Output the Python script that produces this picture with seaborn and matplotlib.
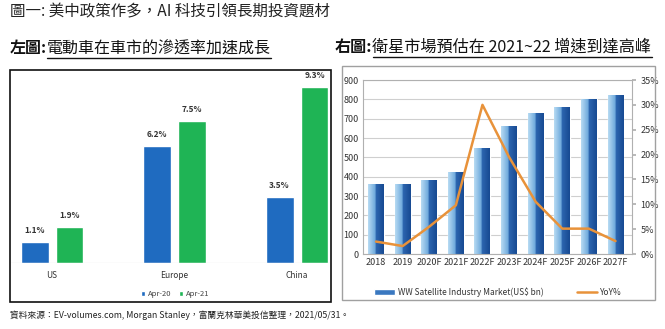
import numpy as np
import pandas as pd
import matplotlib
matplotlib.use("Agg")
import matplotlib.pyplot as plt
from matplotlib.patches import Rectangle, Patch
from matplotlib.lines import Line2D
from matplotlib.colors import LinearSegmentedColormap
import seaborn as sns

# ---------------- data ----------------
ev_regions = ["US", "Europe", "China"]
ev_apr20 = [1.1, 6.2, 3.5]
ev_apr21 = [1.9, 7.5, 9.3]
ev_series = ["Apr-20", "Apr-21"]

sat_years = ["2018", "2019", "2020F", "2021F", "2022F", "2023F", "2024F", "2025F", "2026F", "2027F"]
sat_market = [360, 362, 383, 422, 550, 660, 727, 758, 800, 820]
sat_yoy = [2.5, 1.6, 5.5, 9.8, 30.0, 19.5, 10.5, 5.1, 5.1, 2.6]

left_yticks_r = [0, 5, 10, 15, 20, 25, 30, 35]

title_text = "圖一: 美中政策作多，AI 科技引領長期投資題材"
left_sub_bold = "左圖:"
left_sub = "電動車在車市的滲透率加速成長"
right_sub_bold = "右圖:"
right_sub = "衛星市場預估在 2021~22 增速到達高峰"
footer_text = "資料來源：EV-volumes.com, Morgan Stanley，富蘭克林華美投信整理，2021/05/31。"

sns.set_theme(style="white")
plt.rcParams['font.family'] = ['Noto Sans CJK TC', 'DejaVu Sans']

W, H = 665, 329
fig = plt.figure(figsize=(W / 100, H / 100), dpi=100)


def fx(x):
    return x / W


def fy(y):
    return 1 - y / H


def axrect(x0, y0, x1, y1):
    return [fx(x0), fy(y1), (x1 - x0) / W, (y1 - y0) / H]


# ---------------- texts ----------------
fig.text(fx(10), fy(12), title_text, fontsize=11.2, va="center", ha="left", color="#222222")
fig.text(fx(10), fy(315), footer_text, fontsize=6.3, va="center", ha="left", color="#222222")

fig.canvas.draw()
renderer = fig.canvas.get_renderer()


def subtitle(x, y, bold, rest, size):
    t1 = fig.text(fx(x), fy(y), bold, fontsize=size, fontweight="bold", va="center", ha="left", color="#111111")
    bb = t1.get_window_extent(renderer)
    x2 = bb.x1 / fig.dpi * 100
    t2 = fig.text(x2 / W, fy(y), rest, fontsize=size, va="center", ha="left", color="#111111")
    bb2 = t2.get_window_extent(renderer)
    fig.add_artist(Line2D([bb2.x0 / (W), bb2.x1 / (W)], [fy(y + 10), fy(y + 10)],
                          transform=fig.transFigure, color="#111111", lw=1))


subtitle(10, 48, left_sub_bold, left_sub, 11.5)
subtitle(335, 47, right_sub_bold, right_sub, 11.6)

# ---------------- left chart ----------------
fig.add_artist(Rectangle((fx(10), fy(302)), 321 / W, 232 / H, transform=fig.transFigure,
                         fill=False, edgecolor="#111111", lw=1.2))

df_ev = pd.DataFrame({
    "region": ev_regions * 2,
    "value": ev_apr20 + ev_apr21,
    "series": [ev_series[0]] * 3 + [ev_series[1]] * 3,
})
axL = fig.add_axes(axrect(10, 75, 331, 263))
sns.barplot(data=df_ev, x="region", y="value", hue="series", order=ev_regions,
            hue_order=ev_series, palette=["#1f6bc0", "#1fb455"], width=0.57, gap=0.2,
            ax=axL, legend=False, saturation=1)
axL.set_xlim(-0.343, 2.277)
axL.set_ylim(0, 9.93)
for s in axL.spines.values():
    s.set_visible(False)
axL.set_yticks([])
axL.set_xlabel("")
axL.set_ylabel("")
axL.axhline(0, color="#c8c8c8", lw=0.8)
axL.tick_params(axis="x", length=0, labelsize=6, pad=6, colors="#333333")
for cont in axL.containers:
    axL.bar_label(cont, labels=[f"{v:.1f}%" for v in cont.datavalues], padding=5,
                  fontsize=6, fontweight="bold", color="#333333")
handlesL = [Patch(facecolor="#1f6bc0", label=ev_series[0]),
            Patch(facecolor="#1fb455", label=ev_series[1])]
fig.legend(handles=handlesL, loc="center", bbox_to_anchor=(fx(175), fy(294)), ncol=2,
           frameon=False, fontsize=5.5, handlelength=0.6, handleheight=0.6,
           handletextpad=0.3, columnspacing=1.0, labelcolor="#444444")

# ---------------- right chart ----------------
fig.add_artist(Rectangle((fx(342), fy(300)), 313 / W, 234 / H, transform=fig.transFigure,
                         fill=False, edgecolor="#a0a0a0", lw=1.0))

df_sat = pd.DataFrame({"year": sat_years, "market": sat_market})
axR = fig.add_axes(axrect(363, 80, 632, 254))
sns.barplot(data=df_sat, x="year", y="market", color="#2a64ad", width=0.6, ax=axR, saturation=1)
axR.set_xlim(-0.49, 9.62)
axR.set_ylim(0, 900)
axR.set_yticks(range(0, 901, 100))
axR.yaxis.grid(True, color="#cfcfcf", lw=0.8)
axR.set_axisbelow(True)
axR.set_xlabel("")
axR.set_ylabel("")
for s in axR.spines.values():
    s.set_color("#b0b0b0")
    s.set_linewidth(0.8)
axR.tick_params(axis="both", labelsize=6.5, colors="#333333", length=0, pad=3)

# gradient fill on bars
cmap = LinearSegmentedColormap.from_list(
    "satbar", [(0.0, "#b8dbf3"), (0.45, "#6ea9dc"), (0.5, "#2d66b0"), (1.0, "#174a92")])
grad = np.linspace(0, 1, 64).reshape(1, -1)
for p in axR.patches:
    x0, y0 = p.get_x(), p.get_y()
    w, h = p.get_width(), p.get_height()
    im = axR.imshow(grad, cmap=cmap, aspect="auto", extent=(x0, x0 + w, y0, y0 + h),
                    zorder=p.get_zorder() + 0.1, origin="lower")
    im.set_clip_path(p)
axR.set_xlim(-0.49, 9.62)
axR.set_ylim(0, 900)

axR2 = axR.twinx()
sns.lineplot(x=np.arange(len(sat_years)), y=sat_yoy, ax=axR2, color="#e8923a", lw=1.8)
axR2.set_ylim(0, 35)
axR2.set_yticks(left_yticks_r)
axR2.set_yticklabels([f"{v}%" for v in left_yticks_r])
axR2.tick_params(axis="y", labelsize=6.5, colors="#333333", length=3, pad=3, color="#b0b0b0")
for s in axR2.spines.values():
    s.set_visible(False)
axR2.set_ylabel("")

handlesR = [Patch(facecolor="#3a78c0", label="WW Satellite Industry Market(US$ bn)"),
            Line2D([0], [0], color="#e8923a", lw=1.8, label="YoY%")]
fig.legend(handles=handlesR, loc="center", bbox_to_anchor=(fx(498), fy(292)), ncol=2,
           frameon=False, fontsize=6, handlelength=2.5, handleheight=0.6,
           handletextpad=0.3, columnspacing=4.0, labelcolor="#333333")

fig.savefig("out.png", dpi=100)
